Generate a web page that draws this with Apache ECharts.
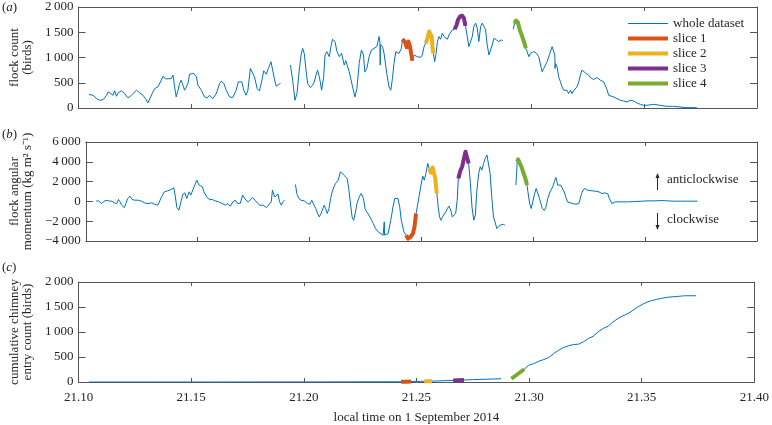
<!DOCTYPE html>
<html><head><meta charset="utf-8">
<script src="https://cdn.jsdelivr.net/npm/echarts@6/dist/echarts.min.js"></script>
<style>html,body{margin:0;padding:0;background:#fff}#c{width:772px;height:425px}</style>
</head><body><div id="c"></div>
<script>
// ---------- tick labels ----------
const xTickMin = 21.10, xTickMax = 21.40, xTickStep = 0.05;
const countTicks = [0, 500, 1000, 1500, 2000];
const momTicks = [-4000, -2000, 0, 2000, 4000, 6000];
const entryTicks = [0, 500, 1000, 1500, 2000];
const legendNames = ['whole dataset', 'slice 1', 'slice 2', 'slice 3', 'slice 4'];

// ---------- (a) flock count ----------
const countSeg0 = [[21.1046,266],[21.1065,252],[21.1079,186],[21.1094,153],[21.1109,166],[21.1124,252],[21.1131,319],[21.1143,286],[21.1153,252],[21.1160,339],[21.1168,232],[21.1175,299],[21.1182,266],[21.1190,339],[21.1197,365],[21.1204,286],[21.1216,206],[21.1226,219],[21.1241,286],[21.1256,352],[21.1271,299],[21.1285,252],[21.1296,186],[21.1307,100],[21.1319,219],[21.1329,319],[21.1337,385],[21.1351,418],[21.1366,551],[21.1374,631],[21.1384,578],[21.1396,578],[21.1410,584],[21.1418,651],[21.1425,418],[21.1432,219],[21.1440,352],[21.1447,485],[21.1454,551],[21.1462,518],[21.1469,352],[21.1476,385],[21.1484,485],[21.1491,671],[21.1499,704],[21.1510,684],[21.1521,618],[21.1528,452],[21.1543,352],[21.1557,219],[21.1569,199],[21.1579,252],[21.1594,186],[21.1609,286],[21.1624,485],[21.1631,531],[21.1643,485],[21.1653,352],[21.1668,219],[21.1682,206],[21.1697,352],[21.1707,518],[21.1722,518],[21.1731,352],[21.1741,252],[21.1749,352],[21.1760,784],[21.1766,817],[21.1778,618],[21.1790,385],[21.1800,339],[21.1811,551],[21.1819,737],[21.1830,671],[21.1840,784],[21.1851,916],[21.1859,883],[21.1866,584],[21.1874,432],[21.1884,465],[21.1893,485]];
const countSeg1 = [[21.1937,850],[21.1947,551],[21.1957,153],[21.1966,286],[21.1976,750],[21.1984,1049],[21.1991,1182],[21.1998,1082],[21.2006,750],[21.2013,485],[21.2025,405],[21.2035,452],[21.2043,518],[21.2050,651],[21.2057,750],[21.2065,618],[21.2075,352],[21.2084,618],[21.2090,1049],[21.2098,1116],[21.2109,1016],[21.2116,1215],[21.2123,1361],[21.2134,1315],[21.2143,1116],[21.2153,1016],[21.2163,1082],[21.2175,850],[21.2182,936],[21.2190,950],[21.2197,717],[21.2212,418],[21.2222,219],[21.2231,385],[21.2241,883],[21.2251,1149],[21.2260,1049],[21.2266,717],[21.2275,784],[21.2285,1016],[21.2295,1149],[21.2307,1182],[21.2319,1215],[21.2329,1414],[21.2333,1300],[21.2334,850],[21.2335,1260],[21.2337,1248],[21.2344,1215],[21.2351,1082],[21.2363,684],[21.2373,418],[21.2381,352],[21.2388,584],[21.2395,883],[21.2403,1116],[21.2410,1149],[21.2417,1082],[21.2428,1182]];
const countSlice1 = [[21.2432,1361],[21.2443,1315],[21.2451,1202],[21.2459,1315],[21.2466,1215],[21.2476,936]];
const countSeg2 = [[21.2484,1049],[21.2491,1082],[21.2498,1016],[21.2506,1049],[21.2513,1003],[21.2520,1049],[21.2528,1215]];
const countSlice2 = [[21.2535,1282],[21.2542,1361],[21.2550,1514],[21.2557,1534],[21.2562,1414],[21.2565,1215],[21.2569,1082]];
const countSeg3 = [[21.2575,916],[21.2581,1082],[21.2587,1315],[21.2594,1414],[21.2601,1361],[21.2609,1481],[21.2616,1414],[21.2623,1448],[21.2631,1361],[21.2638,1448],[21.2645,1414],[21.2653,1547],[21.2660,1580]];
const countSlice3 = [[21.2663,1560],[21.2672,1647],[21.2678,1746],[21.2687,1813],[21.2697,1826],[21.2704,1780],[21.2711,1627]];
const countSeg4 = [[21.2719,1414],[21.2726,1215],[21.2734,1215],[21.2741,1414],[21.2748,1614],[21.2756,1680],[21.2763,1580],[21.2770,1315],[21.2778,1614],[21.2785,1680],[21.2793,1647],[21.2800,1547],[21.2807,1248],[21.2815,1049],[21.2822,1149],[21.2829,1248],[21.2837,1381],[21.2848,1348],[21.2859,1315],[21.2869,1348],[21.2876,1335]];
const countSeg5 = [[21.2922,1560]];
const countSlice4 = [[21.2928,1667],[21.2934,1733],[21.2943,1693],[21.2951,1547],[21.2962,1414],[21.2972,1282],[21.2978,1182]];
const countSeg6 = [[21.2984,1116],[21.2991,1016],[21.2998,1082],[21.3006,1049],[21.3013,1116],[21.3025,1082],[21.3035,1016],[21.3043,850],[21.3050,717],[21.3057,784],[21.3065,817],[21.3072,916],[21.3084,1082],[21.3094,1215],[21.3101,1182],[21.3106,1049],[21.3107,784],[21.3109,883],[21.3116,817],[21.3123,618],[21.3131,518],[21.3138,418],[21.3145,352],[21.3153,385],[21.3160,352],[21.3167,286],[21.3175,352],[21.3182,286],[21.3190,352],[21.3197,385],[21.3204,418],[21.3212,518],[21.3219,651],[21.3226,750],[21.3234,737],[21.3241,697],[21.3248,684],[21.3256,651],[21.3263,604],[21.3270,584],[21.3278,564],[21.3293,604],[21.3307,551],[21.3322,518],[21.3329,485],[21.3337,365],[21.3344,252],[21.3351,286],[21.3366,219],[21.3381,186],[21.3396,153],[21.3410,139],[21.3425,120],[21.3440,153],[21.3454,139],[21.3469,100],[21.3484,73],[21.3498,53],[21.3513,53],[21.3543,73],[21.3572,53],[21.3601,33],[21.3631,33],[21.3660,20],[21.3690,7],[21.3734,7]];

// ---------- (b) angular momentum ----------
const momSeg0 = [[21.1046,20],[21.1057,54],[21.1069,-216],[21.1079,-47],[21.1090,122],[21.1101,54],[21.1116,20],[21.1128,-149],[21.1138,-216],[21.1146,189],[21.1153,-47],[21.1160,-385],[21.1172,-621],[21.1179,-216],[21.1187,290],[21.1197,527],[21.1207,189],[21.1219,122],[21.1234,122],[21.1249,20],[21.1263,-149],[21.1278,-216],[21.1293,-149],[21.1307,-284],[21.1322,-385],[21.1337,392],[21.1351,966],[21.1366,1067],[21.1381,1202],[21.1393,1371],[21.1399,628],[21.1407,-621],[21.1416,-892],[21.1425,-47],[21.1434,729],[21.1443,865],[21.1451,290],[21.1462,966],[21.1469,628],[21.1476,797],[21.1487,1641],[21.1496,2148],[21.1506,1641],[21.1513,1743],[21.1521,1472],[21.1528,966],[21.1540,459],[21.1550,223],[21.1565,189],[21.1579,54],[21.1594,-47],[21.1609,-216],[21.1624,-385],[21.1634,-216],[21.1646,-486],[21.1657,-47],[21.1668,122],[21.1675,-149],[21.1690,-216],[21.1701,628],[21.1709,729],[21.1716,122],[21.1726,-47],[21.1734,122],[21.1746,392],[21.1756,122],[21.1766,-149],[21.1778,-385],[21.1793,-385],[21.1807,-621],[21.1815,-723],[21.1829,-47],[21.1834,1135],[21.1844,459],[21.1851,628],[21.1859,729],[21.1866,-47],[21.1874,-385],[21.1881,-47],[21.1888,122]];
const momSeg1 = [[21.1937,1709],[21.1943,797],[21.1952,290],[21.1962,122],[21.1976,54],[21.1991,-216],[21.2001,-284],[21.2010,122],[21.2020,-385],[21.2028,-723],[21.2035,-1162],[21.2043,-1567],[21.2050,-1297],[21.2057,-892],[21.2065,-385],[21.2072,-723],[21.2079,-1229],[21.2087,-723],[21.2094,290],[21.2101,966],[21.2109,1472],[21.2116,1810],[21.2128,2148],[21.2138,2992],[21.2145,2823],[21.2153,2654],[21.2160,2823],[21.2168,2317],[21.2175,1304],[21.2182,-47],[21.2190,-1567],[21.2197,-1905],[21.2204,-1229],[21.2212,-216],[21.2222,459],[21.2231,797],[21.2241,290],[21.2248,-723],[21.2256,-1060],[21.2263,-1229],[21.2270,-1567],[21.2278,-1736],[21.2285,-2243],[21.2295,-2749],[21.2307,-3087],[21.2319,-3256],[21.2329,-3425],[21.2333,-3400],[21.2334,-2074],[21.2335,-3400],[21.2337,-3425],[21.2351,-3256],[21.2363,-1905],[21.2373,-554],[21.2381,290],[21.2388,459],[21.2395,290],[21.2403,-554],[21.2410,-1905],[21.2422,-3087]];
const momSlice1 = [[21.2432,-3425],[21.2440,-3763],[21.2451,-3594],[21.2462,-3256],[21.2469,-2580],[21.2476,-1229]];
const momSeg2 = [[21.2484,-216],[21.2488,290],[21.2494,459],[21.2498,1641],[21.2506,2553],[21.2513,2148],[21.2520,2823],[21.2528,3836]];
const momSlice2 = [[21.2535,3330],[21.2542,2900],[21.2550,3431],[21.2557,3300],[21.2562,2317],[21.2566,1304],[21.2569,797]];
const momSeg3 = [[21.2575,-554],[21.2581,-1567],[21.2587,-1905],[21.2594,-1567],[21.2601,-1736],[21.2609,-1060],[21.2616,-723],[21.2623,-486],[21.2631,-892],[21.2638,-1567],[21.2645,-1736],[21.2653,-1229],[21.2660,122]];
const momSlice3 = [[21.2665,2317],[21.2675,3161],[21.2682,3499],[21.2690,4343],[21.2697,5018],[21.2704,5120],[21.2711,3836]];
const momSeg4 = [[21.2719,1810],[21.2726,-554],[21.2734,-1905],[21.2741,-1398],[21.2748,1135],[21.2756,2823],[21.2763,3499],[21.2770,3161],[21.2778,3836],[21.2785,4343],[21.2793,4681],[21.2800,4512],[21.2807,2823],[21.2815,290],[21.2822,-1567],[21.2829,-2074],[21.2837,-2749],[21.2844,-2580],[21.2851,-2411],[21.2859,-2513],[21.2866,-2310],[21.2873,-2411]];
const momSeg5 = [[21.2922,1641],[21.2925,2654]];
const momSlice4 = [[21.2928,4005],[21.2932,4241],[21.2940,4106],[21.2947,3499],[21.2957,2823],[21.2966,2215],[21.2972,1641]];
const momSeg6 = [[21.2976,966],[21.2984,-216],[21.2991,-723],[21.2998,-554],[21.3006,797],[21.3013,1304],[21.3020,1135],[21.3028,290],[21.3040,-723],[21.3050,-892],[21.3057,-554],[21.3065,290],[21.3075,966],[21.3087,1472],[21.3094,1979],[21.3101,2418],[21.3106,1979],[21.3109,1641],[21.3116,1810],[21.3123,1641],[21.3131,1472],[21.3138,966],[21.3145,459],[21.3153,-47],[21.3160,-149],[21.3175,-216],[21.3190,-284],[21.3204,-216],[21.3212,-47],[21.3216,797],[21.3222,1135],[21.3231,1304],[21.3241,1135],[21.3248,1304],[21.3263,1067],[21.3278,1033],[21.3293,966],[21.3307,797],[21.3322,865],[21.3334,729],[21.3340,290],[21.3351,-216],[21.3366,-47],[21.3396,-47],[21.3425,-47],[21.3454,-14],[21.3484,20],[21.3513,54],[21.3543,54],[21.3572,88],[21.3601,54],[21.3631,20],[21.3660,20],[21.3690,20],[21.3734,20]];

// ---------- (c) cumulative chimney entry ----------
const entrySeg0 = [[21.1046,0],[21.1300,0],[21.1600,0],[21.1900,1],[21.2100,2],[21.2300,4],[21.2420,5]];
const entrySlice1 = [[21.2432,6],[21.2455,7],[21.2476,9]];
const entrySeg1 = [[21.2500,12],[21.2520,13]];
const entrySlice2 = [[21.2535,14],[21.2552,15],[21.2569,17]];
const entrySeg2 = [[21.2600,22],[21.2630,28]];
const entrySlice3 = [[21.2663,32],[21.2687,36],[21.2711,40]];
const entrySeg3 = [[21.2750,47],[21.2800,54],[21.2840,60],[21.2876,66]];
const entrySlice4 = [[21.2922,68],[21.2950,160],[21.2978,255]];
const entrySeg4 = [[21.2984,288],[21.2998,334],[21.3021,368],[21.3043,415],[21.3065,449],[21.3087,489],[21.3109,569],[21.3131,636],[21.3153,689],[21.3175,723],[21.3197,750],[21.3219,756],[21.3241,803],[21.3263,870],[21.3285,917],[21.3307,1004],[21.3329,1071],[21.3351,1117],[21.3373,1204],[21.3395,1271],[21.3417,1324],[21.3440,1371],[21.3462,1438],[21.3484,1505],[21.3505,1558],[21.3527,1605],[21.3543,1625],[21.3565,1652],[21.3587,1672],[21.3609,1692],[21.3660,1712],[21.3690,1725],[21.3741,1725]];

// gap markers (missing data)
const gapA = [21.1915, '-'];
const gapB = [21.2899, '-'];

const countWhole = [...countSeg0, gapA, ...countSeg1, ...countSlice1, ...countSeg2, ...countSlice2, ...countSeg3, ...countSlice3, ...countSeg4, gapB, ...countSeg5, ...countSlice4, ...countSeg6];
const momWhole = [...momSeg0, gapA, ...momSeg1, ...momSlice1, ...momSeg2, ...momSlice2, ...momSeg3, ...momSlice3, ...momSeg4, gapB, ...momSeg5, ...momSlice4, ...momSeg6];
const entryWhole = [...entrySeg0, ...entrySlice1, ...entrySeg1, ...entrySlice2, ...entrySeg2, ...entrySlice3, ...entrySeg3, gapB, ...entrySlice4, ...entrySeg4];

const panels = [
  { whole: countWhole, slices: [countSlice1, countSlice2, countSlice3, countSlice4], ticks: countTicks, name: 'flock count\n(birds)' },
  { whole: momWhole, slices: [momSlice1, momSlice2, momSlice3, momSlice4], ticks: momTicks, name: 'flock angular\nmomentum (kg m\u00B2 s\u207B\u00B9)' },
  { whole: entryWhole, slices: [entrySlice1, entrySlice2, entrySlice3, entrySlice4], ticks: entryTicks, name: 'cumulative chimney\nentry count (birds)' }
];

const FONT = "'Liberation Serif', 'Times New Roman', serif";
const TXT = '#262626';
const AX = '#555555';
const BLUE = '#0072BD';
const SLICE_COLORS = ['#D95319', '#EDB120', '#7E2F8E', '#77AC30'];

function fmtNum(v) {
  const a = Math.abs(v);
  let s = a >= 1000 ? Math.floor(a / 1000) + '\u2009' + String(a % 1000).padStart(3, '0') : String(a);
  return (v < 0 ? '\u2212' : '') + s;
}

const grids = [
  { left: 77, top: 7, width: 680, height: 101 },
  { left: 77, top: 142, width: 680, height: 99 },
  { left: 77, top: 282, width: 680, height: 100 }
];

const xAxes = [], yAxes = [], series = [];
panels.forEach((p, i) => {
  const lineStyle = { color: AX, width: 1 };
  xAxes.push({
    gridIndex: i, type: 'value', position: 'bottom', min: xTickMin, max: xTickMax, interval: xTickStep,
    axisLine: { show: true, onZero: false, lineStyle }, axisTick: { show: true, inside: true, length: 4, lineStyle },
    axisLabel: { show: i === 2, margin: 9, fontFamily: FONT, fontSize: 13, color: TXT, formatter: v => v.toFixed(2) },
    splitLine: { show: false },
    name: i === 2 ? 'local time on 1 September 2014' : '', nameLocation: 'middle', nameGap: 29,
    nameTextStyle: { fontFamily: FONT, fontSize: 13, color: TXT }
  });
  xAxes.push({
    gridIndex: i, type: 'value', position: 'top', min: xTickMin, max: xTickMax, interval: xTickStep,
    axisLine: { show: true, onZero: false, lineStyle }, axisTick: { show: true, inside: true, length: 4, lineStyle },
    axisLabel: { show: false }, splitLine: { show: false }
  });
  const ymin = p.ticks[0], ymax = p.ticks[p.ticks.length - 1], yint = p.ticks[1] - p.ticks[0];
  yAxes.push({
    gridIndex: i, type: 'value', position: 'left', min: ymin, max: ymax, interval: yint,
    axisLine: { show: true, onZero: false, lineStyle }, axisTick: { show: true, inside: true, length: 7, lineStyle },
    axisLabel: { show: true, margin: 5, fontFamily: FONT, fontSize: 13, color: TXT, formatter: fmtNum },
    splitLine: { show: false },
    name: p.name, nameLocation: 'middle', nameGap: 44,
    nameTextStyle: { fontFamily: FONT, fontSize: 13, color: TXT, lineHeight: 13, align: 'center' }
  });
  yAxes.push({
    gridIndex: i, type: 'value', position: 'right', min: ymin, max: ymax, interval: yint,
    axisLine: { show: true, onZero: false, lineStyle }, axisTick: { show: true, inside: true, length: 7, lineStyle },
    axisLabel: { show: false }, splitLine: { show: false }
  });
  series.push({
    name: legendNames[0], type: 'line', xAxisIndex: i * 2, yAxisIndex: i * 2, data: p.whole,
    symbol: 'none', showSymbol: false, connectNulls: false, lineStyle: { color: BLUE, width: 1 },
    itemStyle: { color: BLUE }, z: 2, animation: false
  });
  p.slices.forEach((s, k) => {
    series.push({
      name: legendNames[k + 1], type: 'line', xAxisIndex: i * 2, yAxisIndex: i * 2, data: s,
      symbol: 'none', showSymbol: false, lineStyle: { color: SLICE_COLORS[k], width: 4, cap: 'butt', join: 'round' },
      itemStyle: { color: SLICE_COLORS[k] }, z: 3, animation: false
    });
  });
});

const panelLabel = (t, y) => ({
  type: 'text', left: 2, top: y,
  style: { text: '{p|(}{i|' + t + '}{p|)}', rich: {
    p: { fontFamily: FONT, fontSize: 13, fill: TXT },
    i: { fontFamily: FONT, fontSize: 13, fontStyle: 'italic', fill: TXT } } }
});

const thinIcon = 'path://M0,0H40V1H0Z';
const thickIcon = 'path://M0,0H40V4H0Z';

const option = {
  backgroundColor: '#fff',
  animation: false,
  grid: grids,
  xAxis: xAxes,
  yAxis: yAxes,
  series: series,
  legend: {
    orient: 'vertical', left: 623, top: 12, itemWidth: 40, itemHeight: 14, itemGap: 2,
    symbolKeepAspect: true,
    textStyle: { fontFamily: FONT, fontSize: 13, color: TXT },
    data: [
      { name: legendNames[0], icon: thinIcon, itemStyle: { color: BLUE } },
      { name: legendNames[1], icon: thickIcon, itemStyle: { color: SLICE_COLORS[0] } },
      { name: legendNames[2], icon: thickIcon, itemStyle: { color: SLICE_COLORS[1] } },
      { name: legendNames[3], icon: thickIcon, itemStyle: { color: SLICE_COLORS[2] } },
      { name: legendNames[4], icon: thickIcon, itemStyle: { color: SLICE_COLORS[3] } }
    ]
  },
  graphic: [
    panelLabel('a', 1),
    panelLabel('b', 128),
    panelLabel('c', 261),
    { type: 'line', shape: { x1: 657.5, y1: 190, x2: 657.5, y2: 176 }, style: { stroke: TXT, lineWidth: 1 } },
    { type: 'polygon', shape: { points: [[655.5, 178], [657.5, 173], [659.5, 178]] }, style: { fill: TXT } },
    { type: 'text', left: 667, top: 173, style: { text: 'anticlockwise', fontFamily: FONT, fontSize: 13, fill: TXT } },
    { type: 'line', shape: { x1: 657.5, y1: 213, x2: 657.5, y2: 227 }, style: { stroke: TXT, lineWidth: 1 } },
    { type: 'polygon', shape: { points: [[655.5, 225], [657.5, 230], [659.5, 225]] }, style: { fill: TXT } },
    { type: 'text', left: 667, top: 213, style: { text: 'clockwise', fontFamily: FONT, fontSize: 13, fill: TXT } }
  ]
};

const chart = echarts.init(document.getElementById('c'), null, { renderer: 'canvas' });
chart.setOption(option);
</script>
</body></html>
